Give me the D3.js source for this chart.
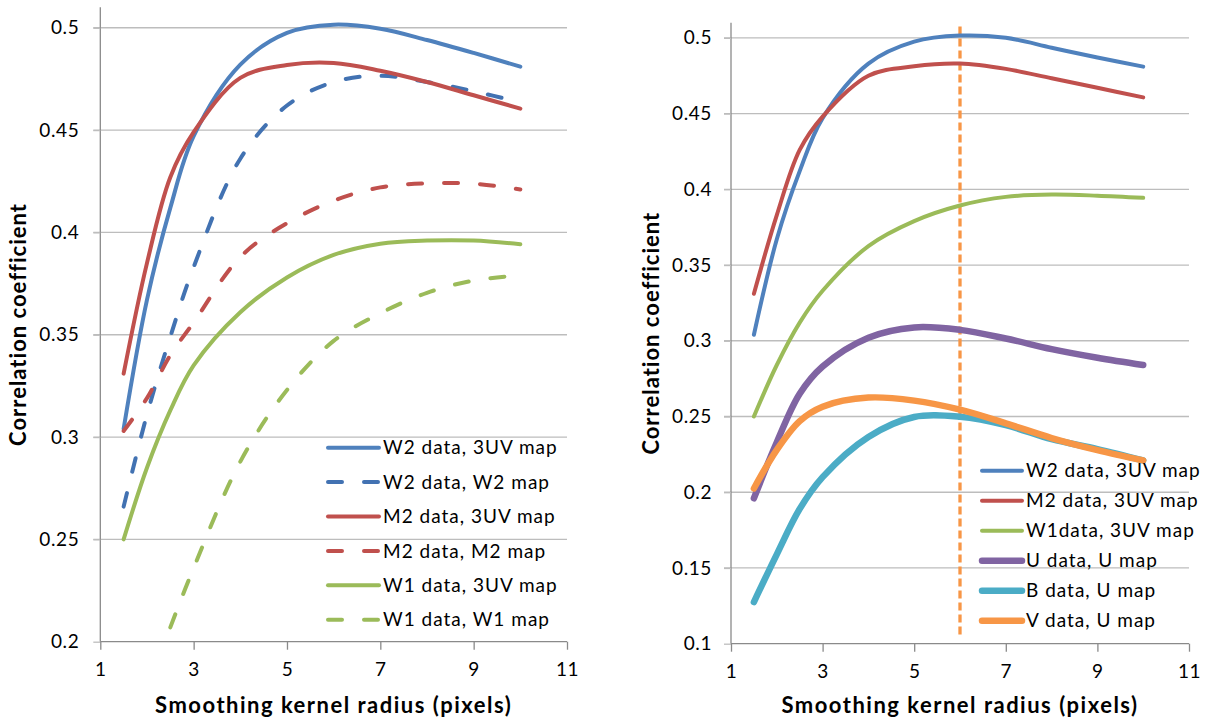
<!DOCTYPE html>
<html>
<head>
<meta charset="utf-8">
<script src="https://cdn.jsdelivr.net/npm/d3@7"></script>
<style>
  body { margin: 0; background: #fff; }
  text { font-family: Lato, "Open Sans", sans-serif; fill: #000; }
</style>
</head>
<body>
<svg id="chart" width="1207" height="722"></svg>
<script>
// Kernel radii (pixels) at which the correlation was evaluated
const radius = [1.5, 2, 2.5, 3, 4, 5, 6, 7, 8, 9, 10];

// Left panel: data correlated against maps
const leftW2vs3UV = [0.304, 0.367, 0.412, 0.447, 0.482, 0.4975, 0.5015, 0.4995, 0.494, 0.4877, 0.481];
const leftW2vsW2  = [0.266, 0.311, 0.349, 0.383, 0.436, 0.462, 0.4735, 0.4765, 0.4735, 0.469, 0.4635];
const leftM2vs3UV = [0.331, 0.385, 0.427, 0.449, 0.4755, 0.4818, 0.4828, 0.479, 0.4735, 0.467, 0.4605];
const leftM2vsM2  = [0.303, 0.319, 0.340, 0.356, 0.388, 0.4045, 0.4155, 0.422, 0.424, 0.4238, 0.421];
const leftW1vs3UV = [0.25, 0.285, 0.313, 0.335, 0.361, 0.378, 0.389, 0.3945, 0.396, 0.396, 0.3942];
const leftW1vsW1  = [null, null, 0.207, 0.236, 0.288, 0.323, 0.347, 0.3605, 0.3705, 0.3765, 0.379];

// Right panel
const rightW2vs3UV = [0.304, 0.367, 0.412, 0.447, 0.483, 0.4975, 0.5015, 0.5, 0.4935, 0.487, 0.481];
const rightM2vs3UV = [0.331, 0.383, 0.426, 0.448, 0.475, 0.4812, 0.483, 0.4795, 0.4733, 0.467, 0.4607];
const rightW1vs3UV = [0.25, 0.284, 0.312, 0.333, 0.3625, 0.379, 0.3893, 0.395, 0.3965, 0.3958, 0.3944];
const rightUvsU    = [0.196, 0.233, 0.265, 0.283, 0.302, 0.3088, 0.3072, 0.3015, 0.2945, 0.2888, 0.284];
const rightBvsU    = [0.1275, 0.159, 0.189, 0.21, 0.2365, 0.2497, 0.2498, 0.2443, 0.235, 0.2285, 0.221];
const rightVvsU    = [0.2025, 0.228, 0.247, 0.2565, 0.2625, 0.2605, 0.2545, 0.2455, 0.2358, 0.2278, 0.221];

// Chosen radius marker on the right panel
const markerRadius = 6;
const markerRange = [0.106, 0.508];

// Axis ticks
const xTicks = [1, 3, 5, 7, 9, 11];
const leftYTicks = [0.2, 0.25, 0.3, 0.35, 0.4, 0.45, 0.5];
const rightYTicks = [0.1, 0.15, 0.2, 0.25, 0.3, 0.35, 0.4, 0.45, 0.5];

const xTitle = "Smoothing kernel radius (pixels)";
const yTitle = "Correlation coefficient";

const C = {
  blue: "#4F81BD", blueDark: "#4272B2", red: "#C0504D", green: "#9BBB59",
  purple: "#8064A2", aqua: "#4BACC6", orange: "#F79646"
};

const leftSeries = [
  { label: "W2 data, 3UV map", values: leftW2vs3UV, color: C.blue, w: 4, dash: false },
  { label: "W2 data, W2 map",  values: leftW2vsW2,  color: C.blueDark, w: 4, dash: true },
  { label: "M2 data, 3UV map", values: leftM2vs3UV, color: C.red, w: 4, dash: false },
  { label: "M2 data, M2 map",  values: leftM2vsM2,  color: C.red, w: 4, dash: true },
  { label: "W1 data, 3UV map", values: leftW1vs3UV, color: C.green, w: 4, dash: false },
  { label: "W1 data, W1 map",  values: leftW1vsW1,  color: C.green, w: 4, dash: true }
];
const rightSeries = [
  { label: "W2 data, 3UV map", values: rightW2vs3UV, color: C.blue, w: 4, dash: false },
  { label: "M2 data, 3UV map", values: rightM2vs3UV, color: C.red, w: 4, dash: false },
  { label: "W1data, 3UV map",  values: rightW1vs3UV, color: C.green, w: 4, dash: false },
  { label: "U data, U map",    values: rightUvsU,    color: C.purple, w: 6.5, dash: false },
  { label: "B data, U map",    values: rightBvsU,    color: C.aqua, w: 6.5, dash: false },
  { label: "V data, U map",    values: rightVvsU,    color: C.orange, w: 6.5, dash: false }
];

const svg = d3.select("#chart");

function drawPanel(cfg) {
  const g = svg.append("g");
  const x = d3.scaleLinear().domain([1, 11]).range([cfg.x0, cfg.x1]);
  const y = d3.scaleLinear().domain(cfg.yDomain).range([cfg.y0, cfg.y1]);

  // horizontal gridlines
  g.selectAll("line.grid").data(cfg.yTicks.slice(1)).join("line")
    .attr("x1", cfg.x0 - 7).attr("x2", cfg.x1)
    .attr("y1", d => y(d)).attr("y2", d => y(d))
    .attr("stroke", "#BDBDBD").attr("stroke-width", 1.3);

  // y axis
  const ya = g.append("g").attr("transform", `translate(${cfg.x0},0)`)
    .call(d3.axisLeft(y).tickValues(cfg.yTicks).tickFormat(d => String(d)).tickSize(7).tickPadding(cfg.yPad));
  ya.select(".domain").attr("d", `M0,${cfg.y1}V${cfg.y0}`);
  // x axis
  const xa = g.append("g").attr("transform", `translate(0,${cfg.y0})`)
    .call(d3.axisBottom(x).tickValues(xTicks).tickFormat(d => String(d)).tickSize(8).tickPadding(13));
  xa.select(".domain").attr("d", `M${cfg.x0},0H${cfg.x1}`);
  [ya, xa].forEach(a => {
    a.selectAll("path, line").attr("stroke", "#8A8A8A").attr("stroke-width", 1.3);
    a.selectAll("text").attr("font-size", 19).attr("fill", "#000")
      .attr("letter-spacing", 0.6)
      .style("font-family", "Lato, sans-serif");
  });
  ya.selectAll(".tick line").attr("stroke", "#BDBDBD");

  // axis titles
  g.append("text").attr("x", (cfg.x0 + cfg.x1) / 2).attr("y", 713)
    .attr("text-anchor", "middle").attr("font-weight", "bold").attr("font-size", 22)
    .attr("letter-spacing", 1.5)
    .text(xTitle);
  g.append("text")
    .attr("transform", `translate(${cfg.yTitleX},${(cfg.y0 + cfg.y1) / 2}) rotate(-90)`)
    .attr("text-anchor", "middle").attr("font-weight", "bold").attr("font-size", 22)
    .attr("letter-spacing", 1)
    .text(yTitle);

  const line = d3.line()
    .defined(d => d[1] != null)
    .x(d => x(d[0])).y(d => y(d[1]))
    .curve(d3.curveCatmullRom.alpha(0.5));

  if (cfg.marker) {
    g.append("line")
      .attr("x1", x(cfg.marker.at)).attr("x2", x(cfg.marker.at))
      .attr("y1", y(cfg.marker.range[0])).attr("y2", y(cfg.marker.range[1]))
      .attr("stroke", C.orange).attr("stroke-width", 3.3).attr("stroke-dasharray", "8,4");
  }

  g.selectAll("path.series").data(cfg.series).join("path")
    .attr("class", "series")
    .attr("d", s => line(radius.map((r, i) => [r, s.values[i]])))
    .attr("fill", "none")
    .attr("stroke", s => s.color)
    .attr("stroke-width", s => s.w)
    .attr("stroke-linecap", "round").attr("stroke-linejoin", "round")
    .attr("stroke-dasharray", s => s.dash ? "14,22" : null);

  // legend
  const lg = g.append("g");
  cfg.series.forEach((s, i) => {
    const cy = cfg.legY + i * cfg.legStep;
    lg.append("line").attr("x1", cfg.legX).attr("x2", cfg.legX + cfg.legLen)
      .attr("y1", cy).attr("y2", cy)
      .attr("stroke", s.color).attr("stroke-width", s.w)
      .attr("stroke-linecap", "round")
      .attr("stroke-dasharray", s.dash ? "14,22" : null);
    lg.append("text").attr("x", cfg.legX + cfg.legLen + 4).attr("y", cy)
      .attr("dy", "0.35em").attr("font-size", 19).attr("letter-spacing", 1)
      .text(s.label);
  });
}

drawPanel({
  x0: 100.3, x1: 567, y0: 641.7, y1: 7.3, yDomain: [0.2, 0.51], yTicks: leftYTicks, yPad: 14,
  yTitleX: 26, series: leftSeries,
  legX: 328, legLen: 51, legY: 447.7, legStep: 34.4
});
drawPanel({
  x0: 731, x1: 1189, y0: 643.7, y1: 22.7, yDomain: [0.1, 0.51], yTicks: rightYTicks, yPad: 12,
  yTitleX: 659, series: rightSeries,
  marker: { at: markerRadius, range: markerRange },
  legX: 982, legLen: 40, legY: 470.7, legStep: 30
});
</script>
</body>
</html>
